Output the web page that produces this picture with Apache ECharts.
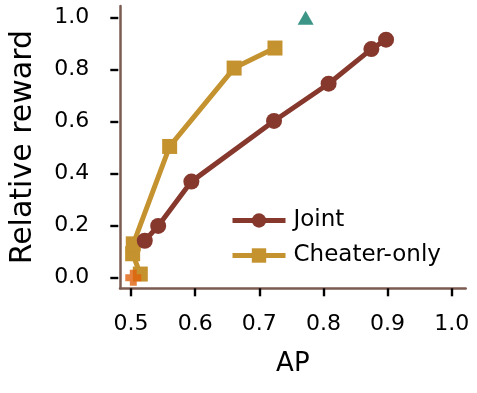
<!DOCTYPE html>
<html>
<head>
<meta charset="utf-8">
<script src="https://cdn.jsdelivr.net/npm/echarts@6/dist/echarts.min.js"></script>
<style>html,body{margin:0;padding:0;background:#fff;}#c{width:477px;height:393px;}</style>
</head>
<body>
<div id="c"></div>
<script>
const xTicks = [0.5, 0.6, 0.7, 0.8, 0.9, 1.0];
const yTicks = [0.0, 0.2, 0.4, 0.6, 0.8, 1.0];
const jointAP = [0.519, 0.540, 0.592, 0.7215, 0.807, 0.874, 0.897];
const jointReward = [0.142, 0.199, 0.369, 0.602, 0.745, 0.878, 0.914];
const cheaterAP = [0.512, 0.500, 0.501, 0.558, 0.659, 0.723];
const cheaterReward = [0.014, 0.092, 0.130, 0.504, 0.805, 0.882];
const triangleAP = [0.771];
const triangleReward = [0.998];
const plusAP = [0.501];
const plusReward = [0.0];

const FONT = 'DejaVu Sans';
const spine = '#7b5a50';
const plusPath = 'path://M-1.3,-3 L1.3,-3 L1.3,-1.3 L3,-1.3 L3,1.3 L1.3,1.3 L1.3,3 L-1.3,3 L-1.3,1.3 L-3,1.3 L-3,-1.3 L-1.3,-1.3 Z';

// axis ranges (data limits) and plot box
const X_MIN = 0.4802, X_MAX = 1.0218, Y_MIN = -0.0407, Y_MAX = 1.0434;
const W = 477, H = 393;
const G = {left: 118.3, right: 11.3, top: 6, bottom: 104.7};
const pw = W - G.left - G.right, ph = H - G.top - G.bottom;
const xPx = v => G.left + (v - X_MIN) / (X_MAX - X_MIN) * pw;
const yPx = v => H - G.bottom - (v - Y_MIN) / (Y_MAX - Y_MIN) * ph;
const tx0 = xTicks[0], tx1 = xTicks[xTicks.length - 1];
const ty0 = yTicks[0], ty1 = yTicks[yTicks.length - 1];
const G2 = {
  left: xPx(tx0), right: W - xPx(tx1),
  top: yPx(ty1), bottom: H - yPx(ty0)
};
const xOff = (H - G.bottom) - yPx(ty0);
const yOff = xPx(tx0) - G.left;

const zip = (a, b) => a.map((v, i) => [v, b[i]]);

const chart = echarts.init(document.getElementById('c'), null, {renderer: 'canvas'});
chart.setOption({
  animation: false,
  backgroundColor: '#fff',
  textStyle: {fontFamily: FONT},
  grid: [
    Object.assign({containLabel: false}, G),
    Object.assign({containLabel: false}, G2)
  ],
  xAxis: [
    {
      gridIndex: 0, type: 'value', min: X_MIN, max: X_MAX,
      name: 'AP', nameLocation: 'middle', nameGap: 63,
      nameTextStyle: {fontFamily: FONT, fontSize: 26, color: '#000'},
      axisLine: {show: true, onZero: false, lineStyle: {color: spine, width: 2.5}},
      axisTick: {show: false}, axisLabel: {show: false}, splitLine: {show: false}
    },
    {
      gridIndex: 1, type: 'value', min: tx0, max: tx1, interval: 0.1, offset: xOff,
      axisLine: {show: false, onZero: false},
      axisTick: {show: true, length: 8, lineStyle: {color: '#000', width: 2.4}},
      axisLabel: {fontFamily: FONT, fontSize: 22, color: '#000', margin: 25,
        formatter: v => v.toFixed(1)},
      splitLine: {show: false}
    }
  ],
  yAxis: [
    {
      gridIndex: 0, type: 'value', min: Y_MIN, max: Y_MAX,
      name: 'Relative reward', nameLocation: 'middle', nameGap: 82, nameRotate: 90,
      nameTextStyle: {fontFamily: FONT, fontSize: 30, color: '#000'},
      axisLine: {show: true, onZero: false, lineStyle: {color: spine, width: 2.5}},
      axisTick: {show: false}, axisLabel: {show: false}, splitLine: {show: false}
    },
    {
      gridIndex: 1, type: 'value', min: ty0, max: ty1, interval: 0.2, offset: yOff,
      axisLine: {show: false, onZero: false},
      axisTick: {show: true, length: 8, lineStyle: {color: '#000', width: 2.4}},
      axisLabel: {fontFamily: FONT, fontSize: 22, color: '#000', margin: 29,
        formatter: v => v.toFixed(1)},
      splitLine: {show: false}
    }
  ],
  legend: {
    left: 225, top: 204, orient: 'vertical', itemWidth: 53, itemHeight: 18, itemGap: 12,
    lineStyle: {width: 5},
    textStyle: {fontFamily: FONT, fontSize: 23, color: '#000', padding: [0, 0, 0, 3]},
    data: ['Joint', 'Cheater-only']
  },
  series: [
    {
      name: 'Cheater-only', type: 'line', data: zip(cheaterAP, cheaterReward),
      symbol: 'rect', symbolSize: 15, showAllSymbol: true,
      lineStyle: {color: '#c4922f', width: 5}, itemStyle: {color: '#c4922f'}, z: 2
    },
    {
      name: 'Joint', type: 'line', data: zip(jointAP, jointReward),
      symbol: 'circle', symbolSize: 16, showAllSymbol: true,
      lineStyle: {color: '#86382d', width: 5}, itemStyle: {color: '#86382d'}, z: 3
    },
    {
      name: 'tri', type: 'scatter', data: zip(triangleAP, triangleReward),
      symbol: 'triangle', symbolSize: [16, 14], itemStyle: {color: '#0b7a69'}, z: 4
    },
    {
      name: 'plus', type: 'scatter', data: zip(plusAP, plusReward),
      symbol: plusPath, symbolSize: 16, itemStyle: {color: '#e0620c'}, z: 4
    }
  ]
});
</script>
</body>
</html>
